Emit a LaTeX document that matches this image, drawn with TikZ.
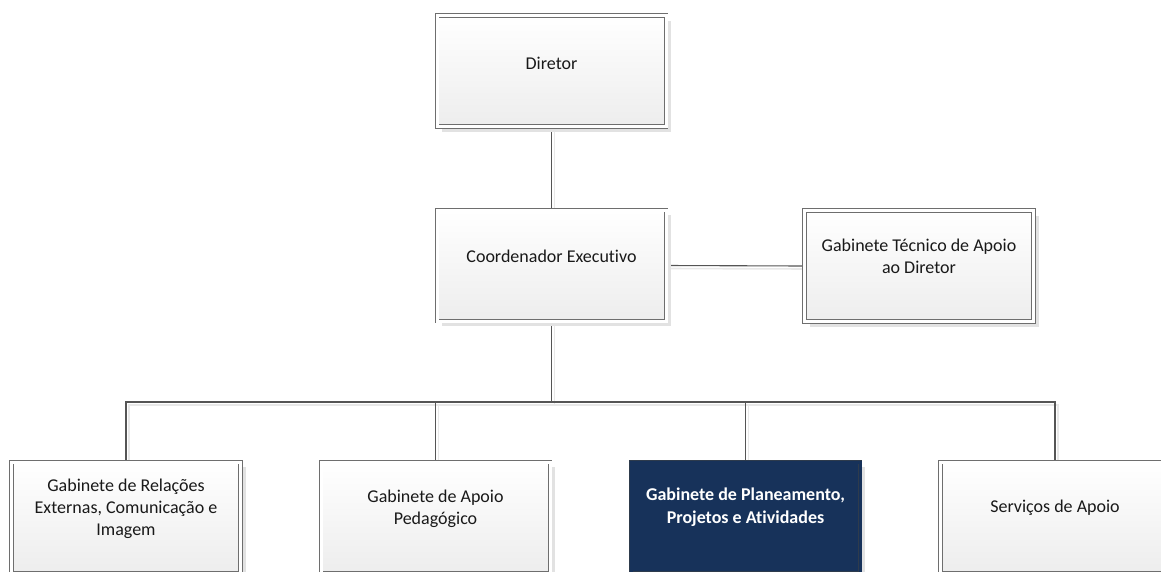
\documentclass[tikz,border=0pt]{standalone}
\usepackage{fontspec}
\setmainfont{Carlito}[Ligatures=NoCommon]
\usetikzlibrary{shadows}
\definecolor{edge}{HTML}{6E6E6E}
\definecolor{boxbot}{HTML}{EDEDED}
\definecolor{shade}{HTML}{E2E2E2}
\definecolor{wire}{HTML}{555555}
\definecolor{wireshadow}{HTML}{E8E8E8}
\definecolor{navy}{HTML}{17325A}
\definecolor{navyedge}{HTML}{2E3B4C}
\pgfdeclarelayer{wires}
\pgfsetlayers{wires,main}

\begin{document}
\begin{tikzpicture}[x=1pt,y=-1pt,
  unit/.style={rectangle, minimum width=229pt, minimum height=111pt, inner sep=0pt,
    draw=edge, line width=0.9pt, double=white, double distance=3pt,
    top color=white, bottom color=boxbot,
    drop shadow={shadow xshift=5pt, shadow yshift=-5pt, fill=shade, opacity=1}},
  focus/.style={unit, draw=navyedge, double=navy, top color=navy, bottom color=navy},
  caption/.style={align=center, font=\fontsize{18}{22}\selectfont, text=black!90, inner sep=0pt},
  focuscaption/.style={caption, text=white, font=\fontsize{18}{22.5}\selectfont\bfseries},
  link/.style={draw=wire, line width=1.1pt},
  linkshadow/.style={draw=wireshadow, line width=1.6pt, transform canvas={xshift=3pt, yshift=-3pt}}
]
\useasboundingbox (0,0) rectangle (1161,571);
\clip (0,0) rectangle (1161,571);

% boxes
\node[unit] (dir)   at (551.5,71)    {};
\node[unit] (coord) at (551.5,265.5) {};
\node[unit] (gt)    at (919,266)     {};
\node[unit]  (b1) at (126,517.5)   {};
\node[unit]  (b2) at (435.5,517.5) {};
\node[focus] (b3) at (745.5,517.5) {};
\node[unit]  (b4) at (1055,517.5)  {};

% captions, set a little above each box centre
\node[caption] (dirt)   at ([yshift=8pt]dir.center)   {Diretor};
\node[caption] (coordt) at ([yshift=9.5pt]coord.center) {Coordenador Executivo};
\node[caption] (gtt)    at ([yshift=9.5pt]gt.center)    {Gabinete Técnico de Apoio\\ao Diretor};
\node[caption] (b1t) at ([yshift=8.5pt]b1.center) {Gabinete de Relações\\Externas, Comunicação e\\Imagem};
\node[caption] (b2t) at ([yshift=9pt]b2.center) {Gabinete de Apoio\\Pedagógico};
\node[focuscaption] (b3t) at ([yshift=10.5pt]b3.center) {Gabinete de Planeamento,\\Projetos e Atividades};
\node[caption] (b4t) at ([yshift=9.5pt]b4.center) {Serviços de Apoio};

\coordinate (bus) at (coord.south |- 0,402);

% connectors, under the boxes
\begin{pgfonlayer}{wires}
\foreach \s in {linkshadow,link}{
  \draw[\s] (dir.south) -- (coord.north);
  \draw[\s] (coord.east) -- (gt.west);
  \draw[\s] (coord.south) -- (bus);
  \draw[\s] (b1.north) |- (bus) -| (b4.north);
  \draw[\s] (b2.north) -- (b2.north |- bus);
  \draw[\s] (b3.north) -- (b3.north |- bus);
}
\end{pgfonlayer}
\end{tikzpicture}
\end{document}
